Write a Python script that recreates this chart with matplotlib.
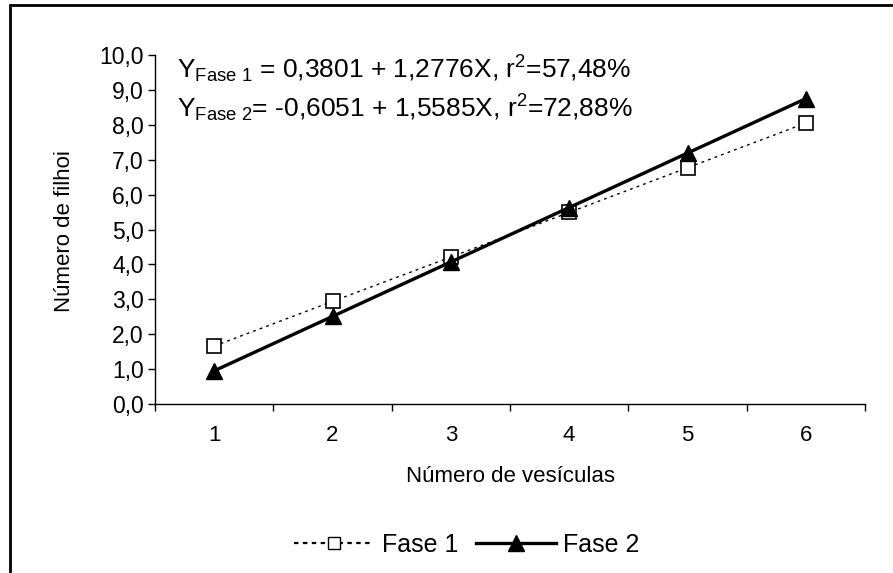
import matplotlib
matplotlib.use("Agg")
import matplotlib.pyplot as plt
from matplotlib.patches import Rectangle
from matplotlib.lines import Line2D

plt.rcParams['font.family'] = ['Liberation Sans', 'DejaVu Sans']
plt.rcParams['mathtext.fontset'] = 'custom'
plt.rcParams['mathtext.rm'] = 'Liberation Sans'
plt.rcParams['mathtext.it'] = 'Liberation Sans'

# dados
vesiculas = [1, 2, 3, 4, 5, 6]
fase1 = [1.66, 2.94, 4.21, 5.49, 6.77, 8.05]
fase2 = [0.95, 2.51, 4.07, 5.63, 7.19, 8.75]
yticks = [0, 1, 2, 3, 4, 5, 6, 7, 8, 9, 10]
ylabels = ['%.1f' % v for v in yticks]
ylabels = [s.replace('.', ',') for s in ylabels]

fig = plt.figure(figsize=(8.93, 5.73), dpi=100)
ax = fig.add_axes([155/893, 1-404/573, 710/893, 349/573])

# moldura da figura
fig.patches.append(Rectangle((10/893, -0.1), 1.2, (573-5)/573 + 0.1, transform=fig.transFigure,
                             fill=False, edgecolor='black', linewidth=2))

ax.plot(vesiculas, fase1, color='black', linewidth=1, linestyle=(0, (2, 3)),
        marker='s', markersize=10, markerfacecolor='white', markeredgecolor='black',
        markeredgewidth=1.2, label='Fase 1')
ax.plot(vesiculas, fase2, color='black', linewidth=2.4, linestyle='-',
        marker='^', markersize=11, markerfacecolor='black', markeredgecolor='black',
        label='Fase 2')

ax.set_xlim(0.5, 6.5)
ax.set_ylim(0, 10)
ax.set_yticks(yticks)
ax.set_yticklabels(ylabels)
ax.set_xticks(vesiculas)
ax.set_xticks([0.5, 1.5, 2.5, 3.5, 4.5, 5.5, 6.5], minor=True)
ax.tick_params(axis='x', which='major', length=0, pad=15, labelsize=16)
ax.tick_params(axis='x', which='minor', length=5, width=1, direction='out')
ax.tick_params(axis='y', length=5, width=1, direction='out', pad=3, labelsize=16.5)
for s in ['top', 'right']:
    ax.spines[s].set_visible(False)
for s in ['left', 'bottom']:
    ax.spines[s].set_linewidth(1)

fig.text(510/893, 1-477/573, 'Número de vesículas', ha='center', va='center', fontsize=16)
fig.text(64/893, 1-231/573, 'Número de filhoi', ha='center', va='center', rotation=90, fontsize=16)

fig.text(177/893, 1-78/573, r'Y$_{\mathrm{Fase\ 1}}$ = 0,3801 + 1,2776X, r$^{\mathrm{2}}$=57,48%',
         ha='left', va='baseline', fontsize=19)
fig.text(177/893, 1-117/573, r'Y$_{\mathrm{Fase\ 2}}$= -0,6051 + 1,5585X, r$^{\mathrm{2}}$=72,88%',
         ha='left', va='baseline', fontsize=19)

h1 = Line2D([], [], color='black', linewidth=1.6, linestyle=(0, (2, 2)), marker='s', markersize=9,
            markerfacecolor='white', markeredgecolor='black')
h2 = Line2D([], [], color='black', linewidth=2.4, marker='^', markersize=11, markerfacecolor='black')
fig.legend([h1, h2], ['Fase 1', 'Fase 2'], loc='center', bbox_to_anchor=(467/893, 1-545/573),
           ncol=2, frameon=False, fontsize=18, handlelength=3.2, handletextpad=0.3, columnspacing=0.7)

fig.savefig('out.png', dpi=100)
